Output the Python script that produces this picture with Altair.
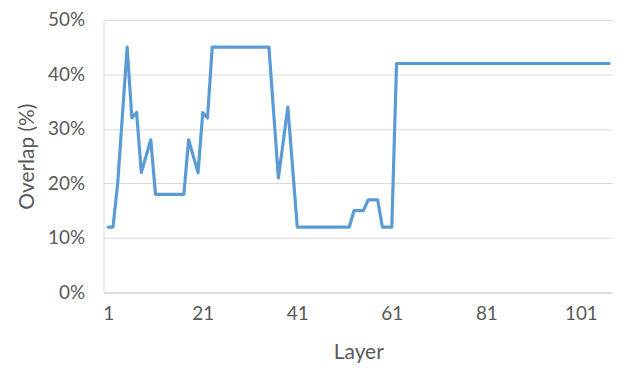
import altair as alt
import pandas as pd

# Overlap (%) per layer
overlap = [
    12, 12, 20, 32.5, 45, 32, 33, 22, 25, 28,          # 1-10
    18, 18, 18, 18, 18, 18, 18, 28, 25, 22,            # 11-20
    33, 32, 45, 45, 45, 45, 45, 45, 45, 45,            # 21-30
    45, 45, 45, 45, 45, 33, 21, 27.5, 34, 23,          # 31-40
    12, 12, 12, 12, 12, 12, 12, 12, 12, 12,            # 41-50
    12, 12, 15, 15, 15, 17, 17, 17, 12, 12,            # 51-60
    12, 42, 42, 42, 42, 42, 42, 42, 42, 42,            # 61-70
    42, 42, 42, 42, 42, 42, 42, 42, 42, 42,            # 71-80
    42, 42, 42, 42, 42, 42, 42, 42, 42, 42,            # 81-90
    42, 42, 42, 42, 42, 42, 42, 42, 42, 42,            # 91-100
    42, 42, 42, 42, 42, 42, 42,                        # 101-107
]
layers = list(range(1, len(overlap) + 1))
x_ticks = [1, 21, 41, 61, 81, 101]
y_ticks = [0, 10, 20, 30, 40, 50]

df = pd.DataFrame({"Layer": layers, "Overlap": overlap})

FONT = "Lato"
TEXT = "#595959"
GRID = "#D9D9D9"

chart = alt.Chart(df).mark_line(
    color="#5B9BD5", strokeWidth=3.2, strokeJoin="round", strokeCap="round"
).encode(
    x=alt.X(
        "Layer:Q",
        scale=alt.Scale(domain=[0, 107.8], nice=False, zero=False),
        axis=alt.Axis(
            values=x_ticks, title="Layer", grid=False, ticks=False,
            domain=True, domainColor=GRID, domainWidth=1,
            labelFont=FONT, labelFontSize=19, labelColor=TEXT, labelPadding=12,
            titleFont=FONT, titleFontSize=21, titleFontWeight="normal",
            titleColor=TEXT, titlePadding=18,
        ),
    ),
    y=alt.Y(
        "Overlap:Q",
        scale=alt.Scale(domain=[0, 50], nice=False),
        axis=alt.Axis(
            values=y_ticks, title="Overlap (%)", grid=True, gridColor=GRID,
            gridWidth=1, ticks=False, domain=False,
            labelExpr="datum.value + '%'",
            labelFont=FONT, labelFontSize=19, labelColor=TEXT, labelPadding=19,
            titleFont=FONT, titleFontSize=21, titleFontWeight="normal",
            titleColor=TEXT, titlePadding=10,
        ),
    ),
).properties(
    width=512,
    height=274,
    autosize=alt.AutoSizeParams(type="none"),
    padding={"left": 96, "top": 11, "right": 0, "bottom": 80},
).configure_view(stroke=None).configure(background="white")

chart.save("out.html", embed_options={"renderer": "svg", "actions": False})
